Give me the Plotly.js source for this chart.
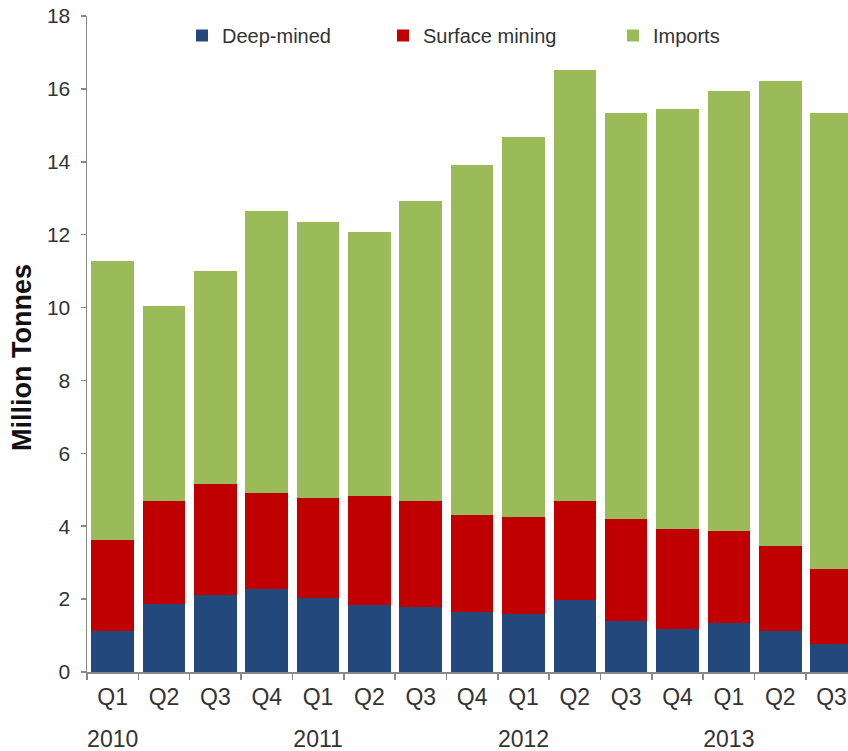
<!DOCTYPE html>
<html>
<head>
<meta charset="utf-8">
<script src="https://cdn.plot.ly/plotly-3.0.1.min.js"></script>
<style>html,body{margin:0;padding:0;background:#fff;overflow:hidden}</style>
</head>
<body>
<div id="chart" style="width:848px;height:751px"></div>
<script>
const quarters = ["Q1","Q2","Q3","Q4","Q1","Q2","Q3","Q4","Q1","Q2","Q3","Q4","Q1","Q2","Q3"];
const years    = ["2010","2010","2010","2010","2011","2011","2011","2011","2012","2012","2012","2012","2013","2013","2013"];
const yearLabels = ["2010","2011","2012","2013"];
const yearLabelIndex = [0, 4, 8, 12];
const deepMined = [1.13,1.86,2.11,2.28,2.04,1.84,1.79,1.64,1.58,1.98,1.39,1.18,1.35,1.13,0.78];
const surfaceMining = [2.49,2.84,3.05,2.63,2.73,2.99,2.89,2.66,2.66,2.72,2.80,2.74,2.52,2.32,2.05];
const imports = [7.66,5.35,5.84,7.74,7.58,7.24,8.24,9.61,10.44,11.82,11.15,11.53,12.07,12.77,12.51];

const cats = quarters.map((q, i) => years[i] + " " + q);
const FONT = "Liberation Sans, Arial, sans-serif";
const NARROW = "Liberation Sans Narrow, Arial Narrow, Liberation Sans, sans-serif";
const TXT = "#333333";

const traces = [
  {type:"bar", name:"Deep-mined", x:cats, y:deepMined, marker:{color:"#23497C"}, legend:"legend"},
  {type:"bar", name:"Surface mining", x:cats, y:surfaceMining, marker:{color:"#C00000"}, legend:"legend2"},
  {type:"bar", name:"Imports", x:cats, y:imports, marker:{color:"#9BBB59"}, legend:"legend3"},
  // helper so the year-label axis is drawn (no visible marks)
  {type:"scatter", mode:"none", x:yearLabelIndex, y:yearLabelIndex.map(() => null), xaxis:"x2",
   showlegend:false, hoverinfo:"skip"}
];

const legendBase = {orientation:"h", xref:"paper", yref:"paper", xanchor:"left", yanchor:"top",
  font:{family:FONT, size:20, color:TXT}, bgcolor:"rgba(0,0,0,0)", borderwidth:0};

const layout = {
  width:848, height:751,
  margin:{l:87, r:0, t:16, b:79, pad:0},
  paper_bgcolor:"#fff", plot_bgcolor:"#fff",
  barmode:"stack", bargap:0.17,
  showlegend:true,
  font:{family:FONT, color:TXT},
  legend:Object.assign({}, legendBase, {x:(182-87)/761, y:1}),
  legend2:Object.assign({}, legendBase, {x:(383-87)/761, y:1}),
  legend3:Object.assign({}, legendBase, {x:(613-87)/761, y:1}),
  xaxis:{type:"category", range:[-0.5, 14.32], tickmode:"array", tickvals:cats, ticktext:quarters,
    tickson:"boundaries", ticks:"outside", ticklen:6, tickwidth:1.5, tickcolor:"#888",
    showline:true, linecolor:"#888", linewidth:1.5, showgrid:false, zeroline:false,
    ticklabelstandoff:4,
    tickfont:{family:NARROW, size:23, color:TXT}, fixedrange:true},
  xaxis2:{overlaying:"x", anchor:"y", side:"bottom", type:"linear", range:[-0.5, 14.32],
    tickmode:"array", tickvals:yearLabelIndex, ticktext:yearLabels,
    ticks:"outside", ticklen:46, tickcolor:"rgba(0,0,0,0)", showline:false, showgrid:false, zeroline:false,
    tickfont:{family:NARROW, size:23, color:TXT}},
  yaxis:{range:[0,18], dtick:2, ticks:"outside", ticklen:5, tickwidth:1.5, tickcolor:"#888",
    showline:true, linecolor:"#888", linewidth:1.5, showgrid:false, zeroline:false,
    ticklabelstandoff:6,
    tickfont:{family:NARROW, size:21, color:TXT}},
  annotations:[
    {text:"<b>Million Tonnes</b>", xref:"paper", yref:"paper", x:0, y:(672-358)/656,
     xanchor:"center", yanchor:"middle", xshift:-65, textangle:-90, showarrow:false,
     font:{family:FONT, size:27, color:"#111"}}
  ]
};

Plotly.newPlot("chart", traces, layout, {displayModeBar:false, staticPlot:true});
</script>
</body>
</html>
